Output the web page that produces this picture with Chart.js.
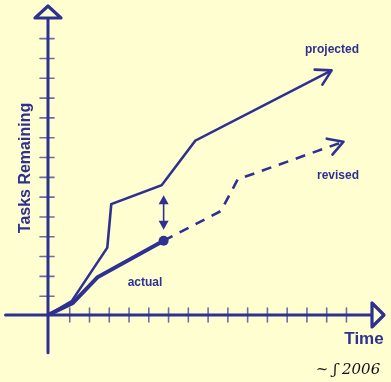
<!DOCTYPE html>
<html>
<head>
<meta charset="utf-8">
<script src="https://cdn.jsdelivr.net/npm/chart.js@4"></script>
<style>
  html, body { margin: 0; padding: 0; background: #fffed0; }
  #wrap { width: 391px; height: 382px; }
</style>
</head>
<body>
<div id="wrap"><canvas id="c" width="391" height="382"></canvas></div>
<script>
// ---- data (x = time units, y = tasks remaining units) ----
const projectedX = [0, 1.2, 3.0, 3.2, 5.75, 7.45, 14.35];
const projectedY = [0, 0.7, 3.4, 5.6, 6.55, 8.8, 12.35];
const actualX    = [0, 1.25, 2.5, 5.85];
const actualY    = [0, 0.6, 1.9, 3.75];
const revisedX   = [5.85, 8.75, 9.6, 14.95];
const revisedY   = [3.75, 5.25, 6.85, 8.75];
const xTicks = [1.1, 2.1, 3.1, 4.1, 5.1, 6.1, 7.1, 8.1, 9.1, 10.1, 11.1, 12.1, 13.1, 14.1, 15.1];
const yTicks = [0.95, 1.95, 2.95, 3.95, 4.95, 5.95, 6.95, 7.95, 8.95, 9.95, 10.95, 11.95, 12.95, 13.95];
const gapX = 5.85, gapTop = 6.05, gapBottom = 4.3;
const xLabel = "Time";
const yLabel = "Tasks Remaining";
const seriesLabels = ["projected", "actual", "revised"];

const INK = "#2f3192";
const BG = "#fffed0";

const pts = (xs, ys) => xs.map((x, i) => ({ x: x, y: ys[i] }));

const drawPlugin = {
  id: "sketch",
  beforeDraw(chart) {
    const ctx = chart.ctx;
    ctx.save();
    ctx.fillStyle = BG;
    ctx.fillRect(0, 0, chart.width, chart.height);
    ctx.restore();
  },
  beforeDatasetsDraw(chart) {
    const ctx = chart.ctx, xs = chart.scales.x, ys = chart.scales.y;
    const ox = xs.getPixelForValue(0), oy = ys.getPixelForValue(0);
    ctx.save();
    ctx.lineCap = "round";
    // ticks
    ctx.strokeStyle = "rgba(47,49,146,0.7)";
    ctx.lineWidth = 1.6;
    yTicks.forEach(v => {
      const py = ys.getPixelForValue(v);
      ctx.beginPath(); ctx.moveTo(ox - 8, py); ctx.lineTo(ox + 6, py); ctx.stroke();
    });
    xTicks.forEach(v => {
      const px = xs.getPixelForValue(v);
      ctx.beginPath(); ctx.moveTo(px, oy - 7); ctx.lineTo(px, oy + 7); ctx.stroke();
    });
    // axes
    ctx.strokeStyle = INK;
    ctx.lineWidth = 3;
    const yTop = ys.getPixelForValue(ys.max);
    const xRight = xs.getPixelForValue(xs.max);
    ctx.beginPath(); ctx.moveTo(ox, ys.getPixelForValue(-1.9)); ctx.lineTo(ox, yTop + 12); ctx.stroke();
    ctx.beginPath(); ctx.moveTo(xs.getPixelForValue(-2.15), oy); ctx.lineTo(xRight - 13, oy); ctx.stroke();
    // axis arrow heads (open triangles)
    ctx.lineWidth = 3.2;
    ctx.lineJoin = "round";
    ctx.fillStyle = BG;
    ctx.beginPath();
    ctx.moveTo(ox, yTop + 1); ctx.lineTo(ox + 13, yTop + 13); ctx.lineTo(ox - 13, yTop + 13); ctx.closePath();
    ctx.fill(); ctx.stroke();
    ctx.beginPath();
    ctx.moveTo(xRight - 2, oy); ctx.lineTo(xRight - 14, oy - 12); ctx.lineTo(xRight - 14, oy + 12); ctx.closePath();
    ctx.fill(); ctx.stroke();
    ctx.restore();
  },
  afterDatasetsDraw(chart) {
    const ctx = chart.ctx, xs = chart.scales.x, ys = chart.scales.y;
    const P = (x, y) => [xs.getPixelForValue(x), ys.getPixelForValue(y)];
    ctx.save();
    ctx.strokeStyle = INK; ctx.fillStyle = INK;
    ctx.lineCap = "round"; ctx.lineJoin = "round";
    // chevrons at line ends
    const chevron = (xArr, yArr) => {
      const n = xArr.length;
      const [tx, ty] = P(xArr[n - 1], yArr[n - 1]);
      const [bx, by] = P(xArr[n - 2], yArr[n - 2]);
      const a = Math.atan2(by - ty, bx - tx);
      const L = 17, s = 0.52;
      ctx.lineWidth = 2.6;
      ctx.setLineDash([]);
      ctx.beginPath();
      ctx.moveTo(tx + L * Math.cos(a - s), ty + L * Math.sin(a - s));
      ctx.lineTo(tx, ty);
      ctx.lineTo(tx + L * Math.cos(a + s), ty + L * Math.sin(a + s));
      ctx.stroke();
    };
    chevron(projectedX, projectedY);
    chevron(revisedX, revisedY);
    // double-headed gap arrow
    const [gx, gt] = P(gapX, gapTop);
    const [, gb] = P(gapX, gapBottom);
    ctx.lineWidth = 1.6;
    ctx.beginPath(); ctx.moveTo(gx, gt + 4); ctx.lineTo(gx, gb - 4); ctx.stroke();
    ctx.beginPath(); ctx.moveTo(gx, gt); ctx.lineTo(gx - 5, gt + 9); ctx.lineTo(gx + 5, gt + 9); ctx.closePath(); ctx.fill();
    ctx.beginPath(); ctx.moveTo(gx, gb); ctx.lineTo(gx - 5, gb - 9); ctx.lineTo(gx + 5, gb - 9); ctx.closePath(); ctx.fill();
    // labels
    ctx.textAlign = "center"; ctx.textBaseline = "middle";
    ctx.font = "bold 12px 'Liberation Sans', Arial, sans-serif";
    ctx.fillText(seriesLabels[0], 332, 50);
    ctx.fillText(seriesLabels[1], 145, 283);
    ctx.fillText(seriesLabels[2], 338, 176);
    ctx.font = "bold 17px 'Liberation Sans', Arial, sans-serif";
    ctx.fillText(xLabel, 364, 339);
    ctx.save();
    ctx.translate(26, 168);
    ctx.rotate(-Math.PI / 2);
    ctx.font = "bold 16px 'Liberation Sans', Arial, sans-serif";
    ctx.fillText(yLabel, 0, 0);
    ctx.restore();
    // signature
    ctx.fillStyle = "#111";
    ctx.font = "italic 15px 'DejaVu Serif', serif";
    ctx.fillText("~ \u0283 2006", 348, 370);
    ctx.restore();
  }
};

new Chart(document.getElementById("c"), {
  type: "line",
  data: {
    datasets: [
      { label: seriesLabels[0], data: pts(projectedX, projectedY), borderColor: INK, borderWidth: 2.6,
        pointRadius: 0, tension: 0, fill: false },
      { label: seriesLabels[1], data: pts(actualX, actualY), borderColor: INK, backgroundColor: INK, borderWidth: 4,
        pointRadius: actualX.map((_, i) => i === actualX.length - 1 ? 5 : 0), pointBorderWidth: 0, tension: 0, fill: false },
      { label: seriesLabels[2], data: pts(revisedX, revisedY), borderColor: INK, borderWidth: 2.6,
        borderDash: [10, 8], pointRadius: 0, tension: 0, fill: false }
    ]
  },
  options: {
    responsive: false,
    animation: false,
    devicePixelRatio: 1,
    layout: { padding: { left: 48, right: 1, top: 2, bottom: 67 } },
    plugins: { legend: { display: false }, tooltip: { enabled: false }, title: { display: false } },
    scales: {
      x: { type: "linear", min: 0, max: 17.1, display: false },
      y: { type: "linear", min: 0, max: 15.65, display: false }
    }
  },
  plugins: [drawPlugin]
});
</script>
</body>
</html>
